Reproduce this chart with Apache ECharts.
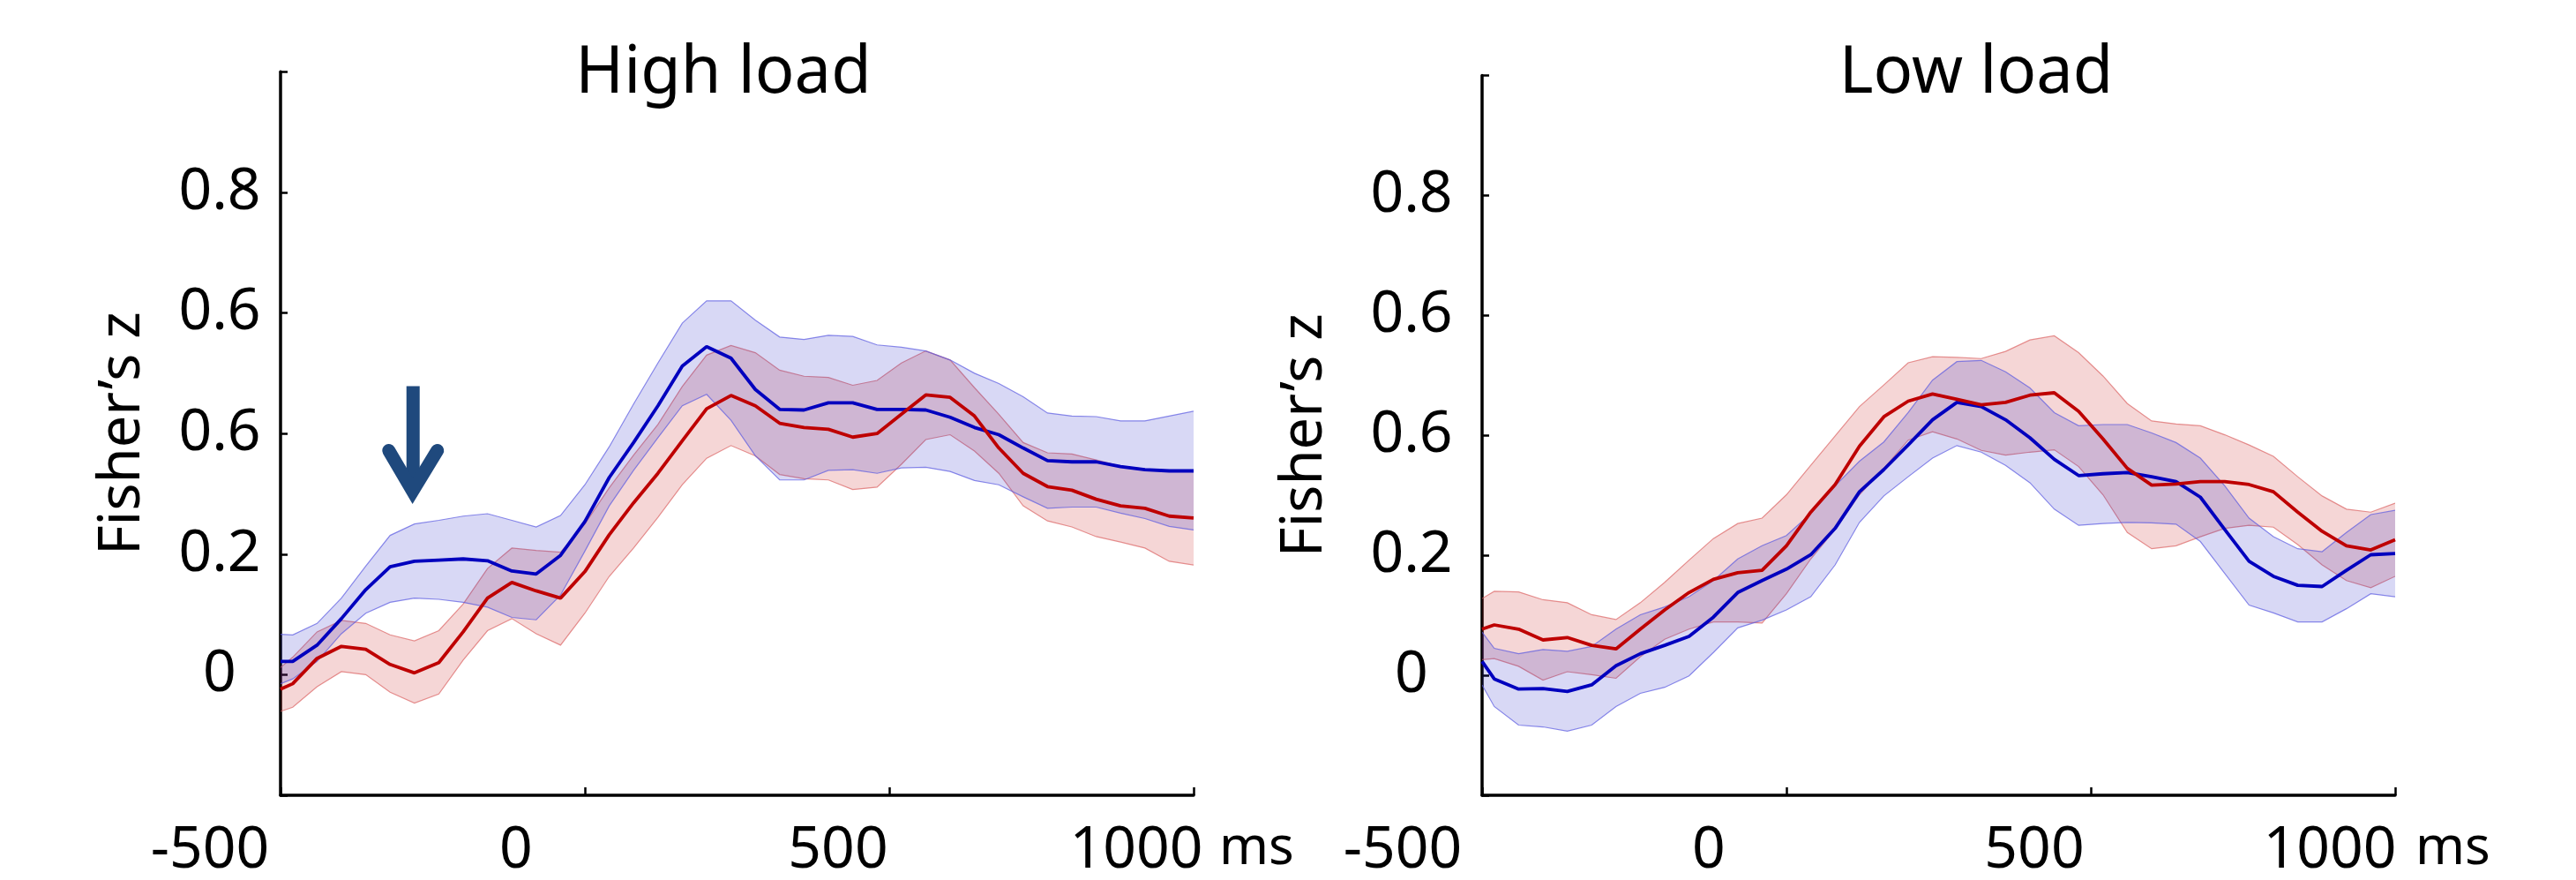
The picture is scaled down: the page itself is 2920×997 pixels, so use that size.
<!DOCTYPE html>
<html>
<head>
<meta charset="utf-8">
<script src="https://cdn.jsdelivr.net/npm/echarts@6/dist/echarts.min.js"></script>
<style>
  html, body { margin: 0; padding: 0; background: #ffffff; }
  #chart { width: 2920px; height: 997px; }
</style>
</head>
<body>
<div id="chart"></div>
<script>
// ---------------- data ----------------
const panelTitles = ['High load', 'Low load'];
const yAxisName = 'Fisher\u2019s z';
const xUnit = 'ms';
const xTickValues = [-500, 0, 500, 1000];
const xTickLabels = ['-500', '0', '500', '1000'];
const yTickValues = [0, 0.2, 0.4, 0.6, 0.8];
const yTickLabels = ['0', '0.2', '0.6', '0.6', '0.8'];

// sample times (ms)
const timeMs = [-500, -480, -440, -400, -360, -320, -280, -240, -200, -160, -120, -80, -40,
  0, 40, 80, 120, 160, 200, 240, 280, 320, 360, 400, 440, 480, 520, 560, 600, 640, 680,
  720, 760, 800, 840, 880, 920, 960, 1000];

// High load
const highBlue = [0.022, 0.022, 0.049, 0.093, 0.141, 0.179, 0.188, 0.190, 0.192, 0.189, 0.172, 0.167, 0.198,
  0.254, 0.327, 0.385, 0.446, 0.512, 0.544, 0.525, 0.473, 0.440, 0.439, 0.451, 0.451, 0.440, 0.440, 0.439, 0.427, 0.410, 0.398,
  0.376, 0.355, 0.353, 0.353, 0.345, 0.340, 0.338, 0.338];
const highBlueUpper = [0.067, 0.066, 0.085, 0.127, 0.180, 0.231, 0.250, 0.256, 0.263, 0.267, 0.256, 0.245, 0.264,
  0.315, 0.378, 0.449, 0.517, 0.583, 0.620, 0.620, 0.588, 0.560, 0.556, 0.563, 0.561, 0.547, 0.543, 0.537, 0.522, 0.500, 0.483,
  0.461, 0.434, 0.429, 0.428, 0.421, 0.421, 0.429, 0.437];
const highBlueLower = [-0.015, -0.007, 0.022, 0.068, 0.102, 0.120, 0.127, 0.125, 0.120, 0.112, 0.095, 0.091, 0.132,
  0.205, 0.280, 0.339, 0.393, 0.446, 0.465, 0.422, 0.363, 0.323, 0.323, 0.339, 0.340, 0.334, 0.343, 0.344, 0.337, 0.322, 0.315,
  0.295, 0.276, 0.278, 0.278, 0.268, 0.259, 0.246, 0.240];
const highRed = [-0.024, -0.015, 0.027, 0.047, 0.042, 0.017, 0.003, 0.020, 0.071, 0.127, 0.153, 0.139, 0.127,
  0.171, 0.232, 0.285, 0.334, 0.388, 0.441, 0.463, 0.446, 0.417, 0.410, 0.407, 0.394, 0.400, 0.432, 0.464, 0.460, 0.429, 0.376,
  0.334, 0.312, 0.306, 0.291, 0.280, 0.276, 0.263, 0.260];
const highRedUpper = [0.012, 0.029, 0.071, 0.090, 0.085, 0.066, 0.056, 0.073, 0.117, 0.176, 0.210, 0.206, 0.203,
  0.250, 0.310, 0.364, 0.415, 0.478, 0.530, 0.546, 0.534, 0.505, 0.495, 0.493, 0.480, 0.488, 0.517, 0.537, 0.522, 0.476, 0.432,
  0.385, 0.368, 0.366, 0.356, 0.346, 0.341, 0.339, 0.337];
const highRedLower = [-0.061, -0.054, -0.020, 0.005, 0.000, -0.029, -0.047, -0.032, 0.024, 0.073, 0.093, 0.068, 0.049,
  0.102, 0.163, 0.210, 0.261, 0.315, 0.359, 0.380, 0.363, 0.332, 0.325, 0.323, 0.307, 0.311, 0.349, 0.390, 0.398, 0.371, 0.334,
  0.280, 0.255, 0.245, 0.229, 0.220, 0.210, 0.188, 0.182];

// Low load
const lowBlue = [0.023, -0.006, -0.023, -0.022, -0.027, -0.016, 0.016, 0.036, 0.050, 0.065, 0.097, 0.138, 0.158,
  0.177, 0.201, 0.245, 0.306, 0.343, 0.384, 0.426, 0.455, 0.448, 0.426, 0.396, 0.360, 0.333, 0.336, 0.338, 0.331, 0.323, 0.297,
  0.243, 0.190, 0.165, 0.150, 0.148, 0.175, 0.201, 0.203];
const lowBlueUpper = [0.072, 0.045, 0.036, 0.043, 0.040, 0.048, 0.077, 0.101, 0.114, 0.131, 0.158, 0.194, 0.216,
  0.233, 0.270, 0.316, 0.357, 0.389, 0.438, 0.492, 0.523, 0.525, 0.506, 0.479, 0.438, 0.416, 0.418, 0.418, 0.404, 0.388, 0.362,
  0.316, 0.262, 0.231, 0.211, 0.206, 0.238, 0.268, 0.275];
const lowBlueLower = [-0.016, -0.052, -0.083, -0.086, -0.093, -0.083, -0.052, -0.030, -0.020, -0.001, 0.038, 0.079, 0.092,
  0.109, 0.131, 0.184, 0.255, 0.299, 0.331, 0.362, 0.383, 0.372, 0.350, 0.321, 0.277, 0.250, 0.253, 0.255, 0.254, 0.252, 0.223,
  0.170, 0.117, 0.104, 0.089, 0.089, 0.111, 0.136, 0.131];
const lowRed = [0.077, 0.084, 0.077, 0.059, 0.063, 0.050, 0.044, 0.077, 0.109, 0.138, 0.160, 0.171, 0.175,
  0.216, 0.272, 0.318, 0.382, 0.431, 0.457, 0.469, 0.460, 0.451, 0.455, 0.467, 0.471, 0.440, 0.394, 0.345, 0.317, 0.319, 0.323,
  0.323, 0.318, 0.306, 0.272, 0.240, 0.216, 0.209, 0.226];
const lowRedUpper = [0.128, 0.140, 0.139, 0.126, 0.121, 0.101, 0.093, 0.121, 0.155, 0.192, 0.228, 0.253, 0.262,
  0.301, 0.350, 0.399, 0.448, 0.484, 0.521, 0.531, 0.530, 0.528, 0.540, 0.559, 0.566, 0.538, 0.499, 0.453, 0.424, 0.419, 0.416,
  0.401, 0.384, 0.365, 0.331, 0.299, 0.277, 0.272, 0.287];
const lowRedLower = [0.026, 0.028, 0.015, -0.008, 0.006, 0.001, -0.005, 0.031, 0.060, 0.077, 0.089, 0.089, 0.087,
  0.136, 0.194, 0.243, 0.301, 0.345, 0.392, 0.406, 0.394, 0.375, 0.367, 0.372, 0.376, 0.348, 0.301, 0.238, 0.211, 0.216, 0.231,
  0.245, 0.250, 0.247, 0.218, 0.184, 0.158, 0.146, 0.165];

// arrow annotation (data coordinates of its tip) in the High-load panel
const arrowTip = [-283, 0.281];

// ---------------- styling / layout ----------------
const FONT = '"Noto Sans", "Liberation Sans", sans-serif';
const BLUE = 'rgb(0,0,190)';
const RED = 'rgb(190,0,0)';
const BLUE_FILL = 'rgba(40,40,200,0.18)';
const RED_FILL = 'rgba(200,30,30,0.18)';
const BLUE_EDGE = 'rgba(90,90,225,0.7)';
const RED_EDGE = 'rgba(220,100,100,0.7)';

const panels = [
  { title: panelTitles[0], grid: { left: 318, top: 81.3, width: 1035, height: 820.4 },
    titleX: 820, yLabelMargin: 69, yNameGap: 146, msGap: 29, xLabelShift: [80, 78, 58, 65],
    blue: highBlue, blueUp: highBlueUpper, blueLo: highBlueLower,
    red: highRed, redUp: highRedUpper, redLo: highRedLower },
  { title: panelTitles[1], grid: { left: 1680, top: 85.5, width: 1035, height: 820.4 },
    titleX: 2240, yLabelMargin: 80, yNameGap: 168, msGap: 23, xLabelShift: [90, 88, 64, 74],
    blue: lowBlue, blueUp: lowBlueUpper, blueLo: lowBlueLower,
    red: lowRed, redUp: lowRedUpper, redLo: lowRedLower }
];

function pairs(arr) { return timeMs.map((t, i) => [t, arr[i]]); }

// confidence band drawn as one polygon through the axes' scales
function bandSeries(gi, upper, lower, fill, edge) {
  return {
    type: 'custom', xAxisIndex: gi, yAxisIndex: gi, silent: true, animation: false, clip: true,
    data: timeMs.map((t, i) => [t, lower[i], upper[i]]),
    renderItem: function (params, api) {
      if (params.dataIndex !== 0) return null;
      const up = timeMs.map((t, i) => api.coord([t, upper[i]]));
      const lo = timeMs.map((t, i) => api.coord([t, lower[i]]));
      const poly = up.concat(lo.slice().reverse());
      return {
        type: 'group',
        children: [
          { type: 'polygon', shape: { points: poly }, style: { fill: fill, stroke: null } },
          { type: 'polyline', shape: { points: up }, style: { stroke: edge, lineWidth: 1.2, fill: null } },
          { type: 'polyline', shape: { points: lo }, style: { stroke: edge, lineWidth: 1.2, fill: null } }
        ]
      };
    }
  };
}

const grids = [], xAxes = [], yAxes = [], series = [], graphics = [];

panels.forEach((p, gi) => {
  grids.push(Object.assign({ containLabel: false }, p.grid));

  const rich = {};
  p.xLabelShift.forEach((s, k) => {
    rich['t' + k] = { fontFamily: FONT, fontSize: 66, color: '#000', padding: [0, 2 * s, 0, 0] };
  });

  xAxes.push({
    gridIndex: gi, type: 'value', min: -500, max: 1000, interval: 500,
    axisLine: { onZero: false, lineStyle: { color: '#000', width: 3.5 } },
    axisTick: { inside: true, length: 9, lineStyle: { color: '#000', width: 2.5 } },
    splitLine: { show: false },
    axisLabel: {
      margin: 30,
      formatter: function (v) {
        const k = xTickValues.indexOf(Math.round(v));
        return k < 0 ? '' : '{t' + k + '|' + xTickLabels[k] + '}';
      },
      rich: rich
    },
    name: '{u|' + xUnit + '}', nameLocation: 'end', nameGap: p.msGap,
    nameTextStyle: { rich: { u: { fontFamily: FONT, fontSize: 60, color: '#000', padding: [122, 0, 0, 0] } } }
  });

  yAxes.push({
    gridIndex: gi, type: 'value', min: -0.2, max: 1.0, interval: 0.2,
    axisLine: { onZero: false, lineStyle: { color: '#000', width: 3.5 } },
    axisTick: { inside: true, length: 8, lineStyle: { color: '#000', width: 2.5 } },
    splitLine: { show: false },
    axisLabel: {
      align: 'center', margin: p.yLabelMargin, fontFamily: FONT, fontSize: 66, color: '#000',
      padding: [6, 0, 0, 0],
      formatter: function (v) {
        const r = Math.round(v * 10) / 10;
        const k = yTickValues.findIndex(t => Math.abs(t - r) < 1e-6);
        return k < 0 ? '' : yTickLabels[k];
      }
    },
    name: yAxisName, nameLocation: 'middle', nameRotate: 90, nameGap: p.yNameGap,
    nameTextStyle: { fontFamily: FONT, fontSize: 65, color: '#000' }
  });

  const common = { xAxisIndex: gi, yAxisIndex: gi, type: 'line', symbol: 'none', showSymbol: false,
    smooth: false, silent: true, animation: false };

  series.push(bandSeries(gi, p.redUp, p.redLo, RED_FILL, RED_EDGE));
  series.push(bandSeries(gi, p.blueUp, p.blueLo, BLUE_FILL, BLUE_EDGE));
  series.push(Object.assign({}, common, { name: 'blue' + gi, data: pairs(p.blue),
    lineStyle: { color: BLUE, width: 3.8 } }));
  series.push(Object.assign({}, common, { name: 'red' + gi, data: pairs(p.red),
    lineStyle: { color: RED, width: 3.8 } }));

  graphics.push({
    type: 'text', x: p.titleX, y: 84, silent: true,
    style: { text: p.title, fontFamily: FONT, fontSize: 74, fill: '#000',
      textAlign: 'center', textVerticalAlign: 'middle' }
  });
});

// arrow annotation drawn through the axes of the first panel
series.push({
  type: 'custom', xAxisIndex: 0, yAxisIndex: 0, silent: true, animation: false, clip: false,
  data: [arrowTip],
  renderItem: function (params, api) {
    const c = api.coord([api.value(0), api.value(1)]);
    const tx = c[0], ty = c[1];
    const col = '#1F497D';
    return {
      type: 'group',
      children: [
        { type: 'rect', shape: { x: tx - 7, y: ty - 135, width: 15, height: 112 },
          style: { fill: col } },
        { type: 'polyline', shape: { points: [[tx - 27, ty - 62], [tx, ty - 16], [tx + 28, ty - 62]] },
          style: { stroke: col, lineWidth: 15, lineCap: 'round', lineJoin: 'miter', miterLimit: 10, fill: null } }
      ]
    };
  }
});

const chart = echarts.init(document.getElementById('chart'), null, { renderer: 'canvas' });
chart.setOption({
  backgroundColor: '#ffffff',
  animation: false,
  textStyle: { fontFamily: FONT },
  grid: grids,
  xAxis: xAxes,
  yAxis: yAxes,
  series: series,
  graphic: graphics
});
</script>
</body>
</html>
